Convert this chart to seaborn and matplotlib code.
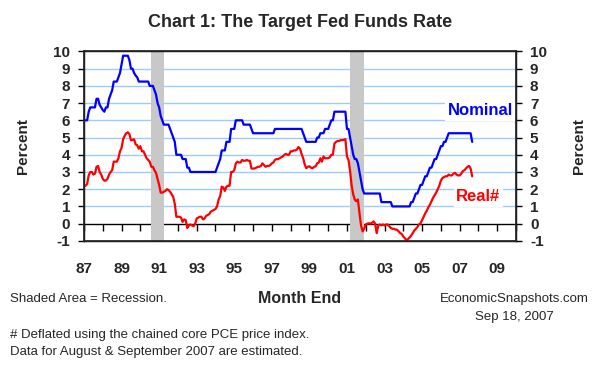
import numpy as np
import pandas as pd
import matplotlib
matplotlib.use("Agg")
import matplotlib.pyplot as plt
import seaborn as sns

sns.set_theme(style="white")
plt.rcParams["font.family"] = ["Liberation Sans", "DejaVu Sans"]

# month-end target fed funds rate, Jan 1987 .. Sep 2007
nominal_by_year = {
    1987: [6.0, 6.0, 6.0, 6.5, 6.75, 6.75, 6.75, 6.75, 7.25, 7.25, 6.9, 6.75],
    1988: [6.6, 6.5, 6.75, 6.75, 7.25, 7.5, 7.75, 8.25, 8.25, 8.25, 8.5, 8.75],
    1989: [9.25, 9.75, 9.75, 9.75, 9.75, 9.5, 9.0, 9.0, 8.75, 8.6, 8.5, 8.25],
    1990: [8.25, 8.25, 8.25, 8.25, 8.25, 8.25, 8.0, 8.0, 8.0, 7.75, 7.5, 7.0],
    1991: [6.75, 6.25, 6.0, 5.75, 5.75, 5.75, 5.75, 5.5, 5.25, 5.0, 4.75, 4.0],
    1992: [4.0, 4.0, 4.0, 3.75, 3.75, 3.75, 3.25, 3.25, 3.0, 3.0, 3.0, 3.0],
    1993: [3.0, 3.0, 3.0, 3.0, 3.0, 3.0, 3.0, 3.0, 3.0, 3.0, 3.0, 3.0],
    1994: [3.0, 3.25, 3.5, 3.75, 4.25, 4.25, 4.25, 4.75, 4.75, 4.75, 5.5, 5.5],
    1995: [5.5, 6.0, 6.0, 6.0, 6.0, 6.0, 5.75, 5.75, 5.75, 5.75, 5.75, 5.5],
    1996: [5.25, 5.25, 5.25, 5.25, 5.25, 5.25, 5.25, 5.25, 5.25, 5.25, 5.25, 5.25],
    1997: [5.25, 5.25, 5.5, 5.5, 5.5, 5.5, 5.5, 5.5, 5.5, 5.5, 5.5, 5.5],
    1998: [5.5, 5.5, 5.5, 5.5, 5.5, 5.5, 5.5, 5.5, 5.25, 5.0, 4.75, 4.75],
    1999: [4.75, 4.75, 4.75, 4.75, 4.75, 5.0, 5.0, 5.25, 5.25, 5.25, 5.5, 5.5],
    2000: [5.5, 5.75, 6.0, 6.0, 6.5, 6.5, 6.5, 6.5, 6.5, 6.5, 6.5, 6.5],
    2001: [5.5, 5.5, 5.0, 4.5, 4.0, 3.75, 3.75, 3.5, 3.0, 2.5, 2.0, 1.75],
    2002: [1.75, 1.75, 1.75, 1.75, 1.75, 1.75, 1.75, 1.75, 1.75, 1.75, 1.25, 1.25],
    2003: [1.25, 1.25, 1.25, 1.25, 1.25, 1.0, 1.0, 1.0, 1.0, 1.0, 1.0, 1.0],
    2004: [1.0, 1.0, 1.0, 1.0, 1.0, 1.25, 1.25, 1.5, 1.75, 1.75, 2.0, 2.25],
    2005: [2.25, 2.5, 2.75, 2.75, 3.0, 3.25, 3.25, 3.5, 3.75, 3.75, 4.0, 4.25],
    2006: [4.5, 4.5, 4.75, 4.75, 5.0, 5.25, 5.25, 5.25, 5.25, 5.25, 5.25, 5.25],
    2007: [5.25, 5.25, 5.25, 5.25, 5.25, 5.25, 5.25, 5.25, 4.75],
}

# real rate (deflated by core PCE)
real_by_year = {
    1987: [2.2, 2.2, 2.3, 2.8, 3.0, 3.0, 2.85, 2.9, 3.3, 3.35, 3.0, 2.85],
    1988: [2.6, 2.5, 2.5, 2.6, 2.85, 3.0, 3.1, 3.6, 3.6, 3.6, 3.8, 4.2],
    1989: [4.4, 4.9, 5.1, 5.25, 5.3, 5.2, 4.85, 4.85, 4.9, 4.6, 4.55, 4.35],
    1990: [4.5, 4.2, 4.2, 4.0, 3.8, 3.7, 3.6, 3.3, 3.3, 3.1, 2.95, 2.6],
    1991: [2.25, 1.8, 1.8, 1.85, 1.9, 2.0, 1.95, 1.85, 1.7, 1.55, 1.15, 0.4],
    1992: [0.4, 0.4, 0.35, 0.1, 0.25, 0.2, -0.25, -0.1, -0.05, -0.1, -0.15, 0.0],
    1993: [0.3, 0.35, 0.4, 0.4, 0.25, 0.3, 0.45, 0.5, 0.55, 0.7, 0.75, 0.8],
    1994: [0.85, 1.0, 1.4, 1.6, 2.15, 2.1, 1.9, 2.15, 2.2, 2.2, 3.0, 3.0],
    1995: [3.1, 3.5, 3.6, 3.55, 3.55, 3.7, 3.65, 3.65, 3.7, 3.65, 3.65, 3.2],
    1996: [3.2, 3.2, 3.25, 3.3, 3.3, 3.35, 3.5, 3.4, 3.3, 3.35, 3.35, 3.4],
    1997: [3.5, 3.55, 3.7, 3.75, 3.75, 3.8, 3.85, 3.9, 4.0, 4.05, 4.0, 4.0],
    1998: [4.2, 4.2, 4.25, 4.25, 4.3, 4.45, 4.35, 4.05, 3.8, 3.45, 3.22, 3.3],
    1999: [3.33, 3.25, 3.22, 3.3, 3.33, 3.5, 3.55, 3.8, 3.6, 3.9, 3.8, 3.8],
    2000: [3.8, 3.85, 4.0, 4.0, 4.65, 4.75, 4.8, 4.8, 4.85, 4.85, 4.87, 4.9],
    2001: [3.9, 3.7, 3.05, 2.2, 1.7, 1.4, 1.3, 1.4, 0.6, -0.1, -0.45, -0.3],
    2002: [-0.05, 0.0, 0.02, 0.0, 0.05, 0.13, 0.0, -0.55, -0.1, -0.05, -0.1, -0.05],
    2003: [-0.1, -0.05, -0.05, -0.15, -0.25, -0.3, -0.3, -0.35, -0.35, -0.45, -0.55, -0.6],
    2004: [-0.75, -0.85, -0.95, -0.9, -0.8, -0.7, -0.55, -0.4, -0.3, -0.2, -0.05, 0.02],
    2005: [0.2, 0.4, 0.6, 0.75, 0.95, 1.1, 1.3, 1.5, 1.65, 1.8, 2.0, 2.2],
    2006: [2.5, 2.65, 2.7, 2.75, 2.75, 2.85, 2.8, 2.8, 2.9, 2.95, 2.85, 2.8],
    2007: [2.8, 2.9, 3.05, 3.1, 3.2, 3.3, 3.35, 3.2, 2.75],
}

recessions = [(1990.58, 1991.25), (2001.17, 2001.92)]

year_ticks = list(range(1987, 2011))
year_labels = list(range(1987, 2011, 2))

# build table
rows = []
for yr in nominal_by_year:
    for m, (n, r) in enumerate(zip(nominal_by_year[yr], real_by_year[yr])):
        rows.append({"date": yr + m / 12, "Nominal": n, "Real": r})
df = pd.DataFrame(rows)

fig = plt.figure(figsize=(6, 3.7), dpi=100)
ax = fig.add_axes([0.14, 0.349, 0.72, 0.512])

ax.set_xlim(1987, 2010)
ax.set_ylim(-1, 10)

# gridlines
for v in range(1, 10):
    ax.axhline(v, color="#99CCFF", lw=1, zorder=0)
ax.axhline(0, color="black", lw=1, zorder=1)

for a, b in recessions:
    ax.axvspan(a, b, color="#C8C8C8", lw=0, zorder=1)

sns.lineplot(data=df, x="date", y="Nominal", color="#0000FF", lw=1.6, ax=ax, zorder=3)
sns.lineplot(data=df, x="date", y="Real", color="#FF0000", lw=1.6, ax=ax, zorder=3)

ax.text(2008.1, 6.55, "Nominal", color="#0000FF", fontsize=12, fontweight="bold",
        ha="center", va="center", zorder=4,
        bbox=dict(facecolor="white", edgecolor="none", pad=2))
ax.text(2008.0, 1.58, "Real#", color="#FF0000", fontsize=12, fontweight="bold",
        ha="center", va="center", zorder=4,
        bbox=dict(facecolor="white", edgecolor="none", pad=2))

for s in ax.spines.values():
    s.set_color("black")
    s.set_linewidth(1)

# x labels below the frame, tick marks on the zero line
ax.set_xticks(year_labels)
ax.set_xticklabels([f"{y % 100:02d}" for y in year_labels], fontsize=11, fontweight="bold")
ax.tick_params(axis="x", length=0, pad=15)
sec = ax.secondary_xaxis(1 / 11)
sec.set_xticks(year_ticks)
sec.tick_params(axis="x", direction="out", length=5, width=1, color="black", labelbottom=False)
sec.set_xticklabels([])
sec.spines["bottom"].set_visible(False)

yt = list(range(-1, 11))
ax.set_yticks(yt)
ax.set_yticklabels([str(v) for v in yt], fontsize=11, fontweight="bold")
ax.tick_params(axis="y", direction="out", length=4, width=1, color="black", left=True, pad=6)
ax.set_xlabel("")
ax.set_ylabel("Percent", fontsize=11, fontweight="bold", labelpad=17)

ax2 = ax.twinx()
ax2.set_ylim(-1, 10)
ax2.set_yticks(yt)
ax2.set_yticklabels([str(v) for v in yt], fontsize=11, fontweight="bold")
ax2.tick_params(axis="y", direction="out", length=4, width=1, color="black", right=True, pad=6)
ax2.set_ylabel("Percent", fontsize=11, fontweight="bold", labelpad=18)
ax2.grid(False)
ax.grid(False)

fig.text(0.5, 0.94, "Chart 1: The Target Fed Funds Rate", ha="center", va="center",
         fontsize=13, fontweight="bold")
fig.text(0.5, 0.192, "Month End", ha="center", va="center", fontsize=11.5, fontweight="bold")
fig.text(0.017, 0.192, "Shaded Area = Recession.", ha="left", va="center", fontsize=9.5)
fig.text(0.857, 0.192, "EconomicSnapshots.com", ha="center", va="center", fontsize=9.5)
fig.text(0.857, 0.144, "Sep 18, 2007", ha="center", va="center", fontsize=9.5)
fig.text(0.017, 0.094, "# Deflated using the chained core PCE price index.", ha="left",
         va="center", fontsize=9.5)
fig.text(0.017, 0.048, "Data for August & September 2007 are estimated.", ha="left",
         va="center", fontsize=9.5)

fig.savefig("out.png", dpi=100)
